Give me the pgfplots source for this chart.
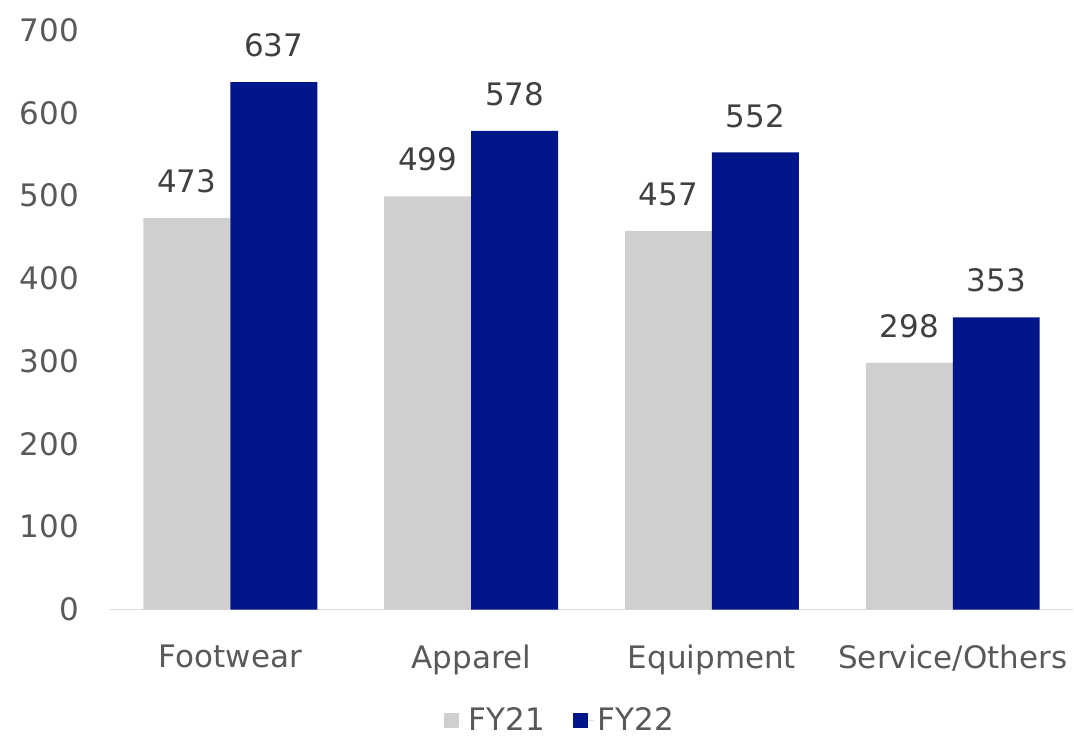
\documentclass[border=0pt]{standalone}
\usepackage{fontspec}
\setmainfont{DejaVu Sans}
\usepackage{pgfplots}
\pgfplotsset{compat=1.18}
\definecolor{fygray}{HTML}{D0CECE}
\definecolor{fyblue}{HTML}{001689}
\definecolor{ticktext}{HTML}{595959}
\definecolor{labtext}{HTML}{404040}
\definecolor{baseline}{HTML}{D9D9D9}
\begin{document}
\begin{tikzpicture}
\begin{axis}[
    scale only axis,
    width=482pt, height=290pt,
    ybar=0pt, bar width=43.5pt,
    xmin=-0.5, xmax=3.5,
    ymin=0, ymax=700,
    ytick={0,100,...,700},
    xtick=data,
    xticklabels={Footwear,Apparel,Equipment,Service/Others},
    axis x line*=bottom,
    axis y line*=left,
    x axis line style={draw=baseline, line width=0.8pt, -},
    y axis line style={draw=none},
    major tick length=0pt,
    font=\fontsize{15.5}{18}\selectfont,
    /pgf/number format/assume math mode=true,
    tick label style={text=ticktext},
    yticklabel style={xshift=-12pt},
    xticklabel style={yshift=-14pt},
    nodes near coords,
    every node near coord/.append style={text=labtext, yshift=9pt},
    legend style={draw=none, at={(axis description cs:0.468,-0.155)}, anchor=north,
        legend columns=2, text=ticktext,
        /tikz/every even column/.append style={column sep=12pt}},
    legend image code/.code={\fill[#1] (0pt,-3.75pt) rectangle (7.5pt,3.75pt);
        \path (0pt,0pt) -- (10.5pt,0pt);},
    clip=false,
]
\addplot[fill=fygray, draw=none] coordinates {(0,473) (1,499) (2,457) (3,298)};
\addlegendentry{FY21}
\addplot[fill=fyblue, draw=none] coordinates {(0,637) (1,578) (2,552) (3,353)};
\addlegendentry{FY22}
\path (rel axis cs:-0.1141,-0.2086) rectangle (rel axis cs:1,1.0517);
\end{axis}
\end{tikzpicture}
\end{document}
